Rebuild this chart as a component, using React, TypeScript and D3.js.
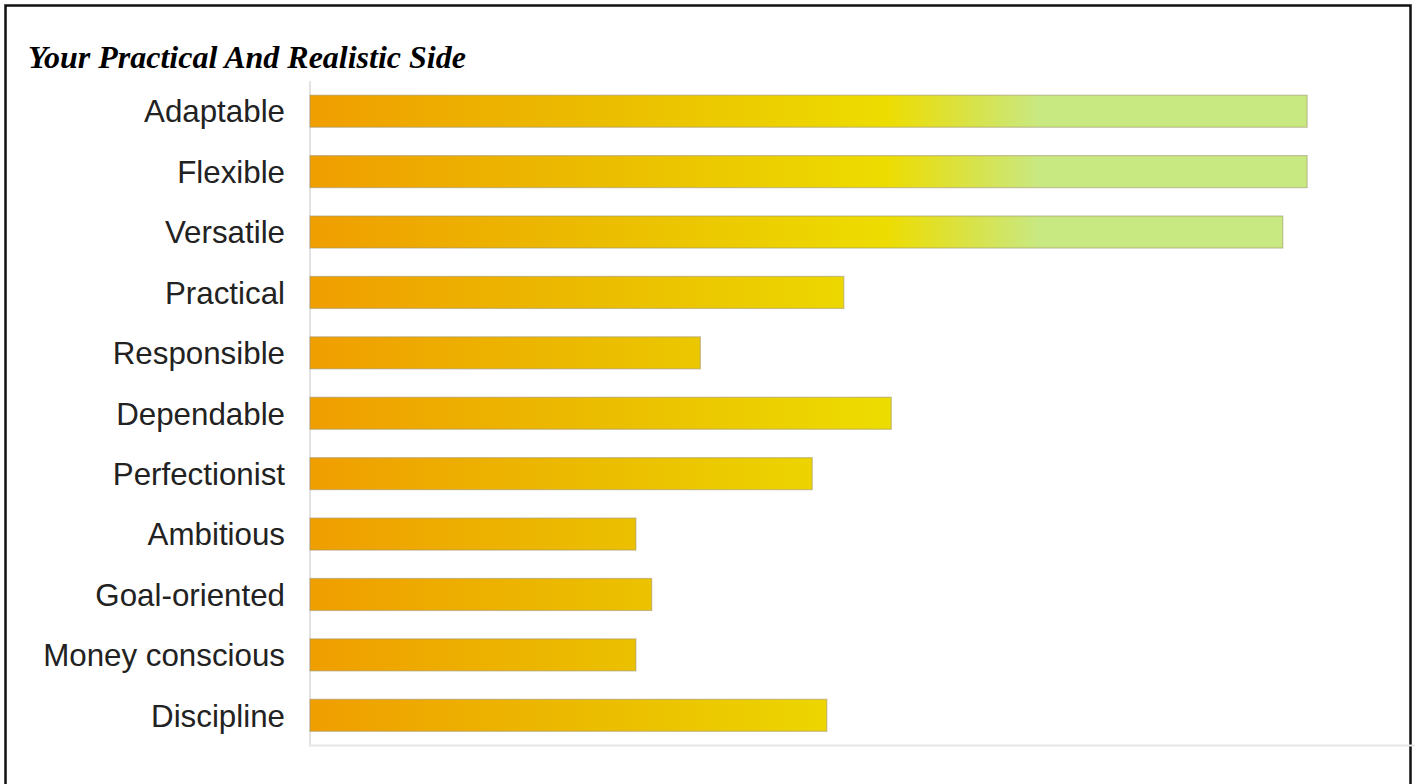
import React from "react";
import * as d3 from "d3";

const title = "Your Practical And Realistic Side";
const categories = [
  "Adaptable",
  "Flexible",
  "Versatile",
  "Practical",
  "Responsible",
  "Dependable",
  "Perfectionist",
  "Ambitious",
  "Goal-oriented",
  "Money conscious",
  "Discipline",
];
const values = [82, 82, 80, 43.9, 32.1, 47.8, 41.3, 26.8, 28.1, 26.8, 42.5];

const W = 1415;
const H = 784;

export default function App() {
  const x = d3.scaleLinear().domain([0, 100]).range([310, 1526]);
  const y = d3
    .scaleBand<string>()
    .domain(categories)
    .range([81, 745.5])
    .paddingInner(0.47)
    .paddingOuter(0.235);

  return (
    <svg
      width={W}
      height={H}
      style={{ position: "absolute", left: 0, top: 0, background: "#fff" }}
    >
      <defs>
        <linearGradient
          id="barGrad"
          gradientUnits="userSpaceOnUse"
          x1={x(0)}
          x2={x(100)}
          y1={0}
          y2={0}
        >
          <stop offset={0} stopColor="#f09e00" />
          <stop offset={(600 - 310) / 1216} stopColor="#ebbd00" />
          <stop offset={(885 - 310) / 1216} stopColor="#eddc00" />
          <stop offset={(1040 - 310) / 1216} stopColor="#c8e882" />
          <stop offset={1} stopColor="#c8e882" />
        </linearGradient>
      </defs>
      <rect x={0} y={0} width={W} height={H} fill="#fff" />
      <rect
        x={5.5}
        y={5.5}
        width={1405}
        height={800}
        fill="none"
        stroke="#111"
        strokeWidth={2.5}
      />
      <text
        x={28}
        y={68}
        fontFamily="'Liberation Serif', 'Times New Roman', serif"
        fontWeight="bold"
        fontStyle="italic"
        fontSize={32}
        fill="#000"
      >
        {title}
      </text>
      <line x1={310} x2={310} y1={81} y2={746} stroke="#e3e3e3" strokeWidth={2} />
      <line x1={309} x2={W} y1={745.5} y2={745.5} stroke="#e6e6e6" strokeWidth={2} />
      {categories.map((c, i) => (
        <g key={c}>
          <rect
            x={x(0)}
            y={y(c)!}
            width={x(values[i]) - x(0)}
            height={y.bandwidth()}
            fill="url(#barGrad)"
            stroke="rgba(160,150,110,0.55)"
            strokeWidth={1.2}
          />
          <text
            x={285}
            y={y(c)! + y.bandwidth() / 2}
            dy="0.36em"
            textAnchor="end"
            fontFamily="'Liberation Sans', Arial, sans-serif"
            fontSize={31.3}
            fill="#222"
          >
            {c}
          </text>
        </g>
      ))}
    </svg>
  );
}
